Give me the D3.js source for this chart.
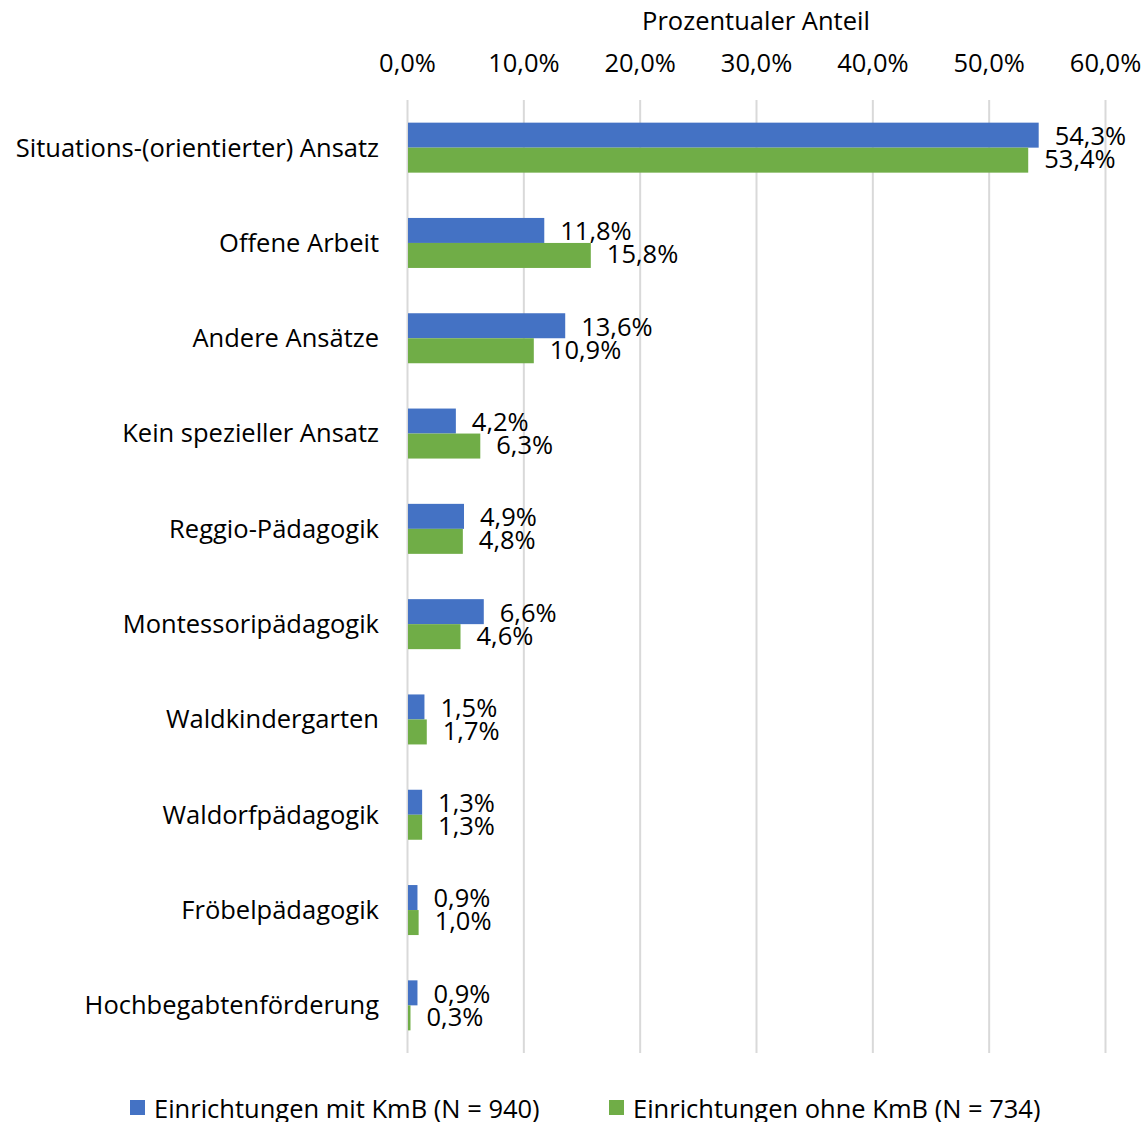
<!DOCTYPE html>
<html><head><meta charset="utf-8">
<script src="https://cdn.jsdelivr.net/npm/d3@7"></script>
<style>body{margin:0;background:#fff}svg{display:block}text{font-family:"Open Sans","Noto Sans",sans-serif;fill:#000}</style>
</head><body>
<script>
const categories = ["Situations-(orientierter) Ansatz","Offene Arbeit","Andere Ansätze","Kein spezieller Ansatz","Reggio-Pädagogik","Montessoripädagogik","Waldkindergarten","Waldorfpädagogik","Fröbelpädagogik","Hochbegabtenförderung"];
const seriesNames = ["Einrichtungen mit KmB (N = 940)","Einrichtungen ohne KmB (N = 734)"];
const withKmB = [54.3,11.8,13.6,4.2,4.9,6.6,1.5,1.3,0.9,0.9];
const withoutKmB = [53.4,15.8,10.9,6.3,4.8,4.6,1.7,1.3,1.0,0.3];
const ticks = [0,10,20,30,40,50,60];
const axisTitle = "Prozentualer Anteil";
const colors = ["#4472C4","#70AD47"];

const W=1148,H=1122;
const svg=d3.select("body").append("svg").attr("width",W).attr("height",H);
const x=d3.scaleLinear().domain([0,60]).range([407,1105]);
const y=d3.scaleBand().domain(categories).range([100,1053]);
const fmt=v=>d3.format(".1f")(v).replace(".",",")+"%";
const fs=25.5;

// gridlines
svg.append("g").selectAll("line").data(ticks).join("line")
  .attr("x1",d=>x(d)+0.5).attr("x2",d=>x(d)+0.5).attr("y1",100).attr("y2",1053)
  .attr("stroke","#d9d9d9").attr("stroke-width",2);

// top axis labels
const ax=d3.axisTop(x).tickValues(ticks).tickFormat(fmt).tickSize(0).tickPadding(0);
const ag=svg.append("g").attr("transform","translate(0,72)").call(ax);
ag.select(".domain").remove();
ag.selectAll("text").style("font-size",fs+"px").attr("fill","#000").style("font-family",null);

svg.append("text").attr("x",756).attr("y",30).attr("text-anchor","middle").style("font-size",fs+"px").text(axisTitle);

// category labels
svg.append("g").selectAll("text").data(categories).join("text")
  .attr("x",379).attr("y",d=>y(d)+y.bandwidth()/2).attr("dy","0.35em")
  .attr("text-anchor","end").style("font-size",fs+"px").text(d=>d);

const series=[withKmB,withoutKmB];
const barH=25;
series.forEach((vals,si)=>{
  const g=svg.append("g");
  const yy=(d,i)=>y(categories[i])+y.bandwidth()/2-barH+si*barH;
  g.selectAll("rect").data(vals).join("rect")
    .attr("x",x(0)+1).attr("y",yy).attr("width",d=>Math.max(0,x(d)-x(0)-1)).attr("height",barH)
    .attr("fill",colors[si]);
  g.selectAll("text").data(vals).join("text")
    .attr("x",d=>x(d)+16).attr("y",(d,i)=>yy(d,i)+barH/2+(si===0?1:-1)).attr("dy","0.35em")
    .style("font-size",fs+"px").text(fmt);
});

// legend
const lg=svg.append("g");
const lx=[130,609];
seriesNames.forEach((n,i)=>{
  lg.append("rect").attr("x",lx[i]).attr("y",1100).attr("width",15).attr("height",15).attr("fill",colors[i]);
  lg.append("text").attr("x",lx[i]+24).attr("y",1109).attr("dy","0.35em").style("font-size",fs+"px").text(n);
});
</script>
</body></html>
